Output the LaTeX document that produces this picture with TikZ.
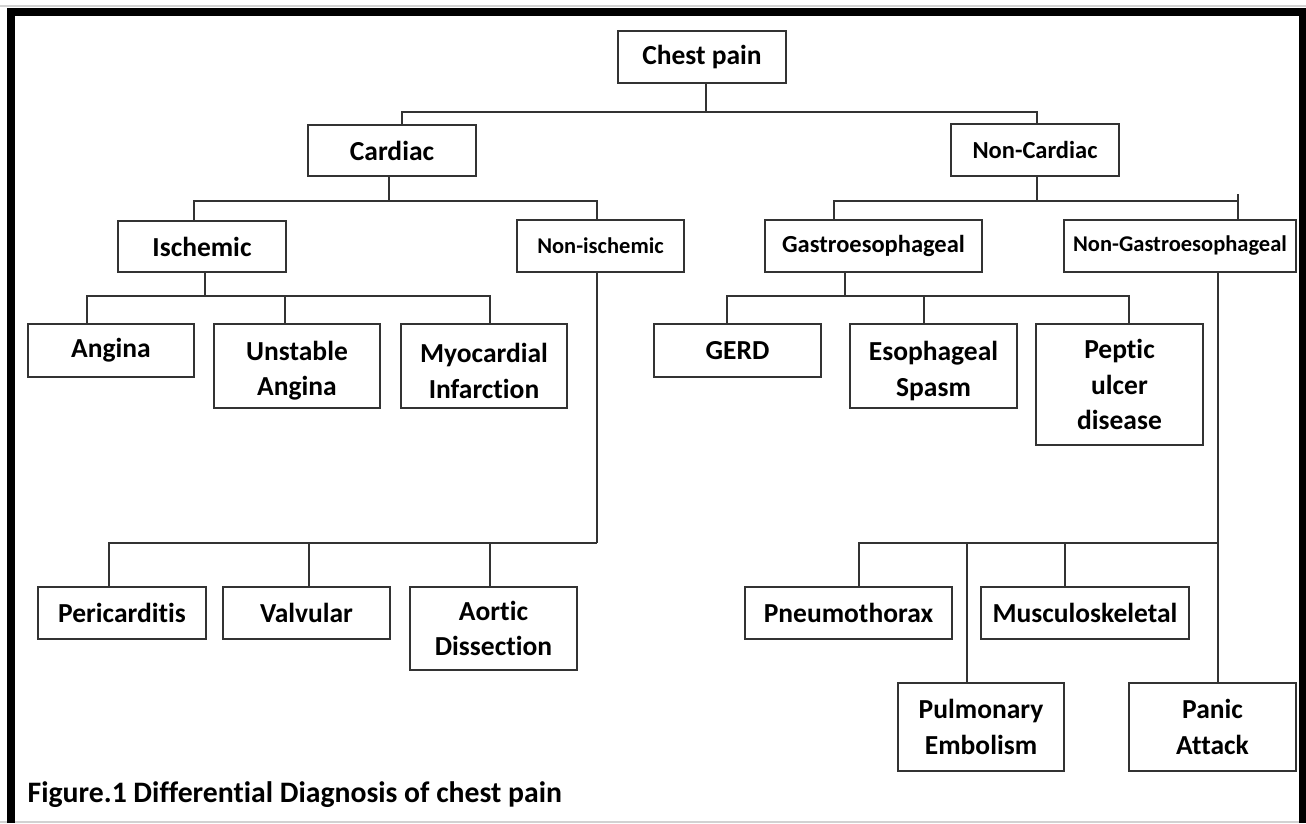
\documentclass[tikz,border=0pt]{standalone}
\usepackage{fontspec}
\setmainfont{Carlito}[Ligatures=CommonOff]
\newcommand{\lowstrut}{\rule{0pt}{29pt}}
\begin{document}
\begin{tikzpicture}[x=1pt,y=-1pt,
  box/.style={draw=black!80, line width=1.8pt, inner sep=0pt, align=center, text=black,
    font=\bfseries\fontsize{27.5}{35.5}\selectfont},
  smallbox/.style={box, font=\bfseries\fontsize{22.5}{26}\selectfont},
  midbox/.style={box, font=\bfseries\fontsize{24.5}{28}\selectfont},
  conn/.style={draw=black!80, line width=1.8pt},
  frame/.style={draw=black, line width=8pt, line join=miter}]
\useasboundingbox (0,0) rectangle (1306,823);
\fill[white] (0,0) rectangle (1306,823);
\draw[gray!35, line width=1.5pt] (0,6) -- (1306,6);
\draw[gray!35, line width=1.5pt] (0,822) -- (1306,822);
\draw[frame] (10.5,823) -- (10.5,11.5) -- (1302.5,11.5) -- (1302.5,823);

% level 0
\node[box, minimum width=168pt, minimum height=52pt] (chest) at (702,57) {Chest pain};
% level 1
\node[box, minimum width=168pt, minimum height=51pt] (cardiac) at (392,150.5) {Cardiac};
\node[midbox, minimum width=168pt, minimum height=52pt] (noncard) at (1035,150) {Non-Cardiac};
% level 2
\node[box, minimum width=168pt, minimum height=51pt] (isch) at (202,246.5) {Ischemic};
\node[smallbox, minimum width=167pt, minimum height=52pt] (nonisch) at (600.5,246) {Non-ischemic};
\node[midbox, minimum width=217pt, minimum height=52pt] (gastro) at (873.5,246) {Gastroesophageal};
\node[smallbox, minimum width=232pt, minimum height=52pt] (nongastro) at (1180,246) {Non-Gastroesophageal};
% level 3 upper
\node[box, minimum width=166pt, minimum height=53pt] (angina) at (111,350.5) {Angina};
\node[box, minimum width=166pt, minimum height=84pt] (unstable) at (297,366) {\lowstrut Unstable\\Angina};
\node[box, minimum width=166pt, minimum height=84pt] (myo) at (484,366) {\lowstrut Myocardial\\Infarction};
\node[box, minimum width=167pt, minimum height=53pt] (gerd) at (737.5,350.5) {GERD};
\node[box, minimum width=167pt, minimum height=84pt] (esoph) at (933.5,366) {\lowstrut Esophageal\\Spasm};
\node[box, minimum width=167pt, minimum height=121pt] (peptic) at (1119.5,384.5) {Peptic\\ulcer\\disease};
% level 3 lower
\node[box, minimum width=168pt, minimum height=52pt] (peric) at (122,613) {Pericarditis};
\node[box, minimum width=167pt, minimum height=52pt] (valv) at (306.5,613) {Valvular};
\node[box, minimum width=167pt, minimum height=83pt] (aortic) at (493.5,628.5) {Aortic\\Dissection};
\node[box, minimum width=207pt, minimum height=52pt] (pneumo) at (848.5,613) {Pneumothorax};
\node[box, minimum width=208pt, minimum height=52pt] (musc) at (1085,613) {Musculoskeletal};
\node[box, minimum width=166pt, minimum height=88pt] (pulm) at (981,727) {Pulmonary\\Embolism};
\node[box, minimum width=167pt, minimum height=88pt] (panic) at (1212.5,727) {Panic\\Attack};

% caption
\node[anchor=base west, inner sep=0pt, font=\bfseries\fontsize{29.7}{32}\selectfont] (caption) at (27.5,802) {Figure.1 Differential Diagnosis of chest pain};

% junctions
\coordinate (j0) at (706,112);
\coordinate (j1) at (389,201);
\coordinate (j2) at (1037,201);
\coordinate (j3) at (205,296);
\coordinate (j4) at (845,296);
\coordinate (j5) at (597,543);
\coordinate (j6) at (1218,543);

% connectors
\draw[conn] ([xshift=4pt]chest.south) -- (j0);
\draw[conn] ([xshift=10pt]cardiac.north) |- (j0) -| ([xshift=2pt]noncard.north);

\draw[conn] ([xshift=-3pt]cardiac.south) -- (j1);
\draw[conn] ([xshift=-8pt]isch.north) |- (j1) -| ([xshift=-3.5pt]nonisch.north);

\draw[conn] ([xshift=2pt]noncard.south) -- (j2);
\draw[conn] ([xshift=-39.5pt]gastro.north) |- (j2) -| ([xshift=58pt]nongastro.north);
\draw[conn] ([xshift=58pt, yshift=25pt]nongastro.north) -- ([xshift=58pt]nongastro.north);

\draw[conn] ([xshift=3pt]isch.south) -- (j3);
\draw[conn] ([xshift=-24pt]angina.north) |- (j3) -| ([xshift=6pt]myo.north);
\draw[conn] ([xshift=-12pt]unstable.north) -- ([xshift=-12pt]unstable.north |- j3);

\draw[conn] ([xshift=-28.5pt]gastro.south) -- (j4);
\draw[conn] ([xshift=-10.5pt]gerd.north) |- (j4) -| ([xshift=9.5pt]peptic.north);
\draw[conn] ([xshift=-9.5pt]esoph.north) -- ([xshift=-9.5pt]esoph.north |- j4);

\draw[conn] ([xshift=-3.5pt]nonisch.south) -- (j5);
\draw[conn] ([xshift=-13pt]peric.north) |- (j5);
\draw[conn] ([xshift=2.5pt]valv.north) -- ([xshift=2.5pt]valv.north |- j5);
\draw[conn] ([xshift=-3.5pt]aortic.north) -- ([xshift=-3.5pt]aortic.north |- j5);

\draw[conn] ([xshift=38pt]nongastro.south) -- ([xshift=5.5pt]panic.north);
\draw[conn] ([xshift=10.5pt]pneumo.north) |- (j6);
\draw[conn] ([xshift=-14pt]pulm.north) -- ([xshift=-14pt]pulm.north |- j6);
\draw[conn] ([xshift=-20pt]musc.north) -- ([xshift=-20pt]musc.north |- j6);
\end{tikzpicture}
\end{document}
